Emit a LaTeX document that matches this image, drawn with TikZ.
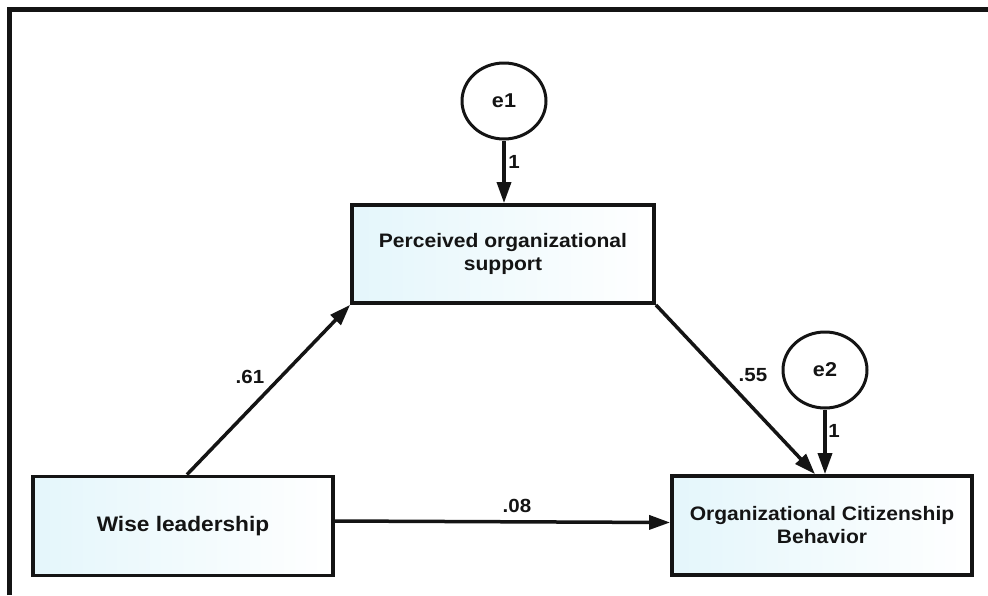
\documentclass[tikz,border=0pt]{standalone}
\usepackage{fontspec}
\setmainfont[FakeStretch=1.08]{Liberation Sans}
\usetikzlibrary{arrows.meta,calc,shapes.geometric}
\definecolor{boxcyan}{HTML}{E4F6FB}
\definecolor{ink}{HTML}{141414}
\tikzset{
  varbox/.style={draw=ink, line width=3.8pt, left color=boxcyan, right color=white,
    minimum width=300pt, minimum height=99pt, align=center, text=ink,
    font=\fontsize{19.5}{23}\selectfont\bfseries, inner sep=0pt},
  errnode/.style={draw=ink, line width=3pt, ellipse, fill=white, minimum width=84pt,
    minimum height=76pt, inner sep=0pt, text=ink, font=\fontsize{20}{22}\selectfont\bfseries},
  path/.style={draw=ink, line width=3.5pt, -{Triangle[length=21pt,width=14pt]}},
  coef/.style={text=ink, font=\fontsize{19}{21}\selectfont\bfseries, inner sep=0pt}
}
\begin{document}
\begin{tikzpicture}[x=1pt,y=-1pt]
\useasboundingbox (0,0) rectangle (988,595);
\fill[white] (0,0) rectangle (988,595);
\draw[ink, line width=4.5pt] (9.5,595) -- (9.5,9.5) -- (988,9.5);

\node[varbox, minimum width=302pt, minimum height=98pt] (pos) at (503,254) {Perceived organizational\\support};
\node[varbox, font=\fontsize{21}{24}\selectfont\bfseries] (wl) at (183,526) {Wise leadership};
\node[varbox] (ocb) at (822,525.5) {Organizational Citizenship\\Behavior};
\node[errnode] (e1) at (504,101) {e1};
\node[errnode] (e2) at (825,370) {e2};

\draw[path] (e1.south) -- (e1.south |- pos.north);
\draw[path] (e2.south) -- (e2.south |- ocb.north);
\draw[path] ($(wl.north west)!0.513!(wl.north east)$) -- (pos.south west);
\draw[path] (pos.south east) -- ($(ocb.north west)!0.477!(ocb.north east)$);
\draw[path] ([yshift=5pt]wl.east) -- ([yshift=3pt]ocb.west);

\node[coef] (l1) at (514,162) {1};
\node[coef] (l2) at (834,431) {1};
\node[coef] (l61) at (250,377) {.61};
\node[coef] (l55) at (753,375) {.55};
\node[coef] (l08) at (517,506) {.08};
\end{tikzpicture}
\end{document}
